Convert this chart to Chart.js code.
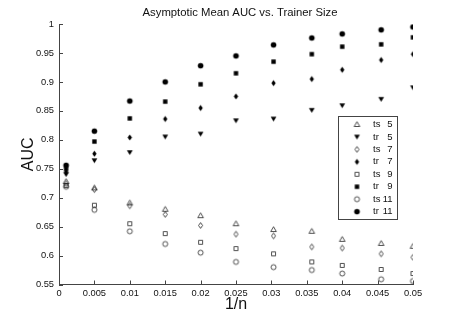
<!DOCTYPE html>
<html>
<head>
<meta charset="utf-8">
<script src="https://cdn.jsdelivr.net/npm/chart.js@4/dist/chart.umd.min.js"></script>
<style>
  html, body { margin: 0; padding: 0; background: #fff; }
  #wrap { width: 455px; height: 319px; }
</style>
</head>
<body>
<div id="wrap"><canvas id="c" width="455" height="319"></canvas></div>
<script>
// ---- data ----
const xValues = [0.001, 0.005, 0.01, 0.015, 0.02, 0.025, 0.0303, 0.0357, 0.04, 0.0455, 0.05];
const ts5  = [0.728, 0.717, 0.691, 0.680, 0.669, 0.655, 0.645, 0.642, 0.628, 0.621, 0.616];
const tr5  = [0.740, 0.764, 0.778, 0.805, 0.810, 0.833, 0.836, 0.851, 0.859, 0.870, 0.890];
const ts7  = [0.724, 0.714, 0.686, 0.671, 0.652, 0.637, 0.634, 0.615, 0.613, 0.603, 0.597];
const tr7  = [0.745, 0.776, 0.804, 0.836, 0.855, 0.875, 0.898, 0.905, 0.921, 0.938, 0.948];
const ts9  = [0.721, 0.687, 0.655, 0.638, 0.623, 0.612, 0.603, 0.589, 0.583, 0.576, 0.569];
const tr9  = [0.750, 0.797, 0.837, 0.866, 0.896, 0.915, 0.935, 0.948, 0.961, 0.965, 0.977];
const ts11 = [0.719, 0.679, 0.642, 0.620, 0.605, 0.589, 0.580, 0.575, 0.569, 0.559, 0.556];
const tr11 = [0.756, 0.815, 0.867, 0.900, 0.928, 0.945, 0.964, 0.976, 0.983, 0.990, 0.995];
const seriesLabels = ['ts 5', 'tr 5', 'ts 7', 'tr 7', 'ts 9', 'tr 9', 'ts 11', 'tr 11'];
const xTicks = [0, 0.005, 0.01, 0.015, 0.02, 0.025, 0.03, 0.035, 0.04, 0.045, 0.05];
const yTicks = [0.55, 0.6, 0.65, 0.7, 0.75, 0.8, 0.85, 0.9, 0.95, 1];

const FONT = "'Liberation Sans', Arial, Helvetica, sans-serif";

// ---- marker images (MATLAB-like) ----
function makeMarker(shape, filled) {
  const S = 11;
  const cv = document.createElement('canvas');
  cv.width = S; cv.height = S;
  const g = cv.getContext('2d');
  const c = S / 2;
  g.beginPath();
  if (shape === 'circle') {
    g.arc(c, c, filled ? 2.8 : 2.5, 0, Math.PI * 2);
  } else if (shape === 'square') {
    const h = filled ? 2.2 : 2.0;
    g.rect(c - h, c - h, 2 * h, 2 * h);
  } else if (shape === 'diamond') {
    const w = filled ? 2.2 : 2.0, hh = filled ? 3.1 : 2.9;
    g.moveTo(c, c - hh); g.lineTo(c + w, c); g.lineTo(c, c + hh); g.lineTo(c - w, c); g.closePath();
  } else if (shape === 'triUp') {
    g.moveTo(c, c - 2.8); g.lineTo(c + 2.8, c + 2.0); g.lineTo(c - 2.8, c + 2.0); g.closePath();
  } else if (shape === 'triDown') {
    g.moveTo(c - 2.9, c - 2.2); g.lineTo(c + 2.9, c - 2.2); g.lineTo(c, c + 2.4); g.closePath();
  }
  if (filled) { g.fillStyle = '#000'; g.fill(); }
  else { g.strokeStyle = '#222'; g.lineWidth = 0.8; g.stroke(); }
  return cv;
}

const markers = [
  makeMarker('triUp', false), makeMarker('triDown', true),
  makeMarker('diamond', false), makeMarker('diamond', true),
  makeMarker('square', false), makeMarker('square', true),
  makeMarker('circle', false), makeMarker('circle', true)
];
const seriesValues = [ts5, tr5, ts7, tr7, ts9, tr9, ts11, tr11];

const datasets = seriesValues.map((vals, i) => ({
  label: seriesLabels[i],
  data: xValues.map((x, j) => ({ x: x, y: vals[j] })),
  pointStyle: markers[i],
  pointRadius: 4,
  showLine: false
}));

// centre the title over the axes region like the reference
const titleShift = {
  id: 'titleShift',
  afterLayout(chart) {
    const t = chart.titleBlock;
    if (t) { t.left = 25; t.right = 455; }
  }
};

// inside ticks like MATLAB
const insideTicks = {
  id: 'insideTicks',
  afterDraw(chart) {
    const ctx = chart.ctx, a = chart.chartArea;
    const xs = chart.scales.x, ys = chart.scales.y;
    ctx.save();
    ctx.strokeStyle = '#444';
    ctx.lineWidth = 1;
    ctx.beginPath();
    xTicks.forEach(v => {
      const px = Math.round(xs.getPixelForValue(v)) + 0.5;
      ctx.moveTo(px, a.bottom); ctx.lineTo(px, a.bottom - 4);
    });
    yTicks.forEach(v => {
      const py = Math.round(ys.getPixelForValue(v)) + 0.5;
      ctx.moveTo(a.left, py); ctx.lineTo(a.left + 4, py);
    });
    ctx.stroke();
    ctx.restore();
  }
};

// boxed legend inside the axes
const boxLegend = {
  id: 'boxLegend',
  afterDraw(chart) {
    const ctx = chart.ctx;
    const x0 = 338.5, y0 = 116.5, w = 59, h = 103;
    ctx.save();
    ctx.fillStyle = '#fff';
    ctx.fillRect(x0, y0, w, h);
    ctx.strokeStyle = '#444';
    ctx.lineWidth = 1;
    ctx.strokeRect(x0, y0, w, h);
    ctx.font = '9.5px ' + FONT;
    ctx.fillStyle = '#111';
    ctx.textBaseline = 'middle';
    chart.data.datasets.forEach((ds, i) => {
      const y = 124.5 + 12.45 * i;
      const m = ds.pointStyle;
      ctx.drawImage(m, 357 - m.width / 2, y - m.height / 2);
      const parts = ds.label.split(' ');
      ctx.textAlign = 'left';
      ctx.fillText(parts[0], 373, y);
      ctx.textAlign = 'right';
      ctx.fillText(parts[1], 392.5, y);
    });
    ctx.restore();
  }
};

const fmt = v => String(+(+v).toFixed(4));

new Chart(document.getElementById('c'), {
  type: 'scatter',
  data: { datasets: datasets },
  options: {
    responsive: false,
    animation: false,
    devicePixelRatio: 1,
    events: [],
    layout: { padding: { left: 0, right: 42, top: 0, bottom: 0 } },
    plugins: {
      legend: { display: false },
      tooltip: { enabled: false },
      title: {
        display: true,
        text: 'Asymptotic Mean AUC vs. Trainer Size',
        color: '#111',
        font: { family: FONT, size: 11.3, weight: 'normal' },
        padding: { top: 6, bottom: 4.5 }
      }
    },
    scales: {
      x: {
        type: 'linear',
        min: 0, max: 0.05,
        afterFit: s => { s.height = 34.5; },
        afterBuildTicks: s => { s.ticks = xTicks.map(v => ({ value: v })); },
        grid: { display: false, drawTicks: false },
        border: { display: true, color: '#444', width: 1 },
        ticks: {
          color: '#111', padding: 3,
          font: { family: FONT, size: 9.3 },
          maxRotation: 0, autoSkip: false,
          callback: fmt
        },
        title: {
          display: true, text: '1/n', color: '#111',
          font: { family: FONT, size: 16 },
          padding: { top: 0, bottom: 4.4 }
        }
      },
      y: {
        type: 'linear',
        min: 0.55, max: 1,
        afterFit: s => { s.width = 59; },
        afterBuildTicks: s => { s.ticks = yTicks.map(v => ({ value: v })); },
        grid: { display: false, drawTicks: false },
        border: { display: true, color: '#444', width: 1 },
        ticks: {
          color: '#111', padding: 5,
          font: { family: FONT, size: 9.3 },
          autoSkip: false,
          callback: fmt
        },
        title: {
          display: true, text: 'AUC', color: '#111',
          font: { family: FONT, size: 16 },
          padding: { top: 18.5, bottom: 0 }
        }
      }
    }
  },
  plugins: [titleShift, insideTicks, boxLegend]
});
</script>
</body>
</html>
